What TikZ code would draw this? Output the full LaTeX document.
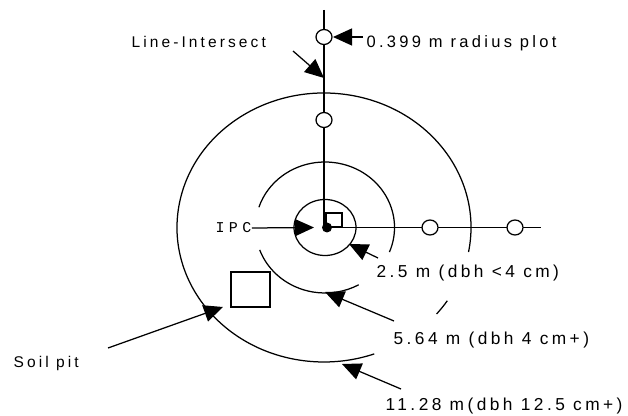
\documentclass[tikz,border=0pt]{standalone}
\usepackage{fontspec}
\setmainfont{Liberation Sans}
\newfontfamily\lblfont[LetterSpace=20]{Liberation Sans}
\newfontfamily\ipcfont[LetterSpace=29]{Liberation Mono}
\usetikzlibrary{arrows.meta,shapes.geometric}
\tikzset{
  lbl/.style={anchor=west,inner sep=0pt,font=\fontsize{17.3}{19}\lblfont},
  lblr/.style={lbl,font=\fontsize{16.5}{18}\lblfont},
  lblb/.style={lbl,font=\fontsize{15.5}{17}\lblfont},
  pnt/.style={draw,fill=white,ellipse,inner sep=0pt,minimum width=16pt,minimum height=15pt},
  arr/.style={-{Triangle[length=19pt,width=17pt]}}
}
\begin{document}
\begin{tikzpicture}[x=1pt,y=1pt,line width=1.25pt]
  \useasboundingbox (0,0) rectangle (628,415);
  \coordinate (O) at (325,187.5);
  \coordinate (Ob) at (324,187.5);
  \coordinate (Otop) at (324,405);
  \coordinate (Oend) at (541,187.5);
  % transects
  \draw (Otop) -- (324,187.5) -- (Oend);
  \node[pnt] (p1) at (324,378) {};
  \node[pnt] (p2) at (324,295) {};
  \node[pnt] (p3) at (430,187.5) {};
  \node[pnt] (p4) at (515,187.5) {};
  % plot circles
  \draw (O) ellipse [x radius=31, y radius=28];
  \draw (O) ++(-22:69.5 and 65.5) arc [start angle=-22, end angle=162, x radius=69.5, y radius=65.5];
  \draw (O) ++(200:69.5 and 65.5) arc [start angle=200, end angle=299, x radius=69.5, y radius=65.5];
  \draw (Ob) ++(-10.5:147 and 134.5) arc [start angle=-10.5, end angle=290, x radius=147, y radius=134.5];
  \draw (Ob) ++(-40:147 and 134.5) arc [start angle=-40, end angle=-33, x radius=147, y radius=134.5];
  \draw (326,188) rectangle (342,202);
  \fill (327,187.5) circle (5);
  \node[draw,minimum width=39pt,minimum height=35pt,inner sep=0pt] (pit) at (250.5,125.5) {};
  % labels
  \node[lblb] (intersect) at (131,373) {Line-Intersect};
  \node[lblr] (radius) at (366,372) {0.399 m radius plot};
  \node[lbl,font=\fontsize{15}{17}\ipcfont] (ipc) at (215,187) {IPC};
  \node[lbl] (small) at (376,142) {2.5 m (dbh <4 cm)};
  \node[lbl] (mid) at (393,75) {5.64 m (dbh 4 cm+)};
  \node[lbl] (big) at (385,9) {11.28 m(dbh 12.5 cm+)};
  \node[lblb] (soil) at (13,52) {Soil pit};
  % arrows
  \coordinate (a1) at (363,378);
  \coordinate (b1) at (333,378);
  \coordinate (a2) at (293,364);
  \coordinate (b2) at (324,337);
  \coordinate (b3) at (314,187.5);
  \coordinate (a4) at (378,157);
  \coordinate (b4) at (349,171);
  \coordinate (a5) at (394,94);
  \coordinate (b5) at (325,123);
  \coordinate (a6) at (401,26);
  \coordinate (b6) at (342,51);
  \coordinate (a7) at (108,67);
  \coordinate (b7) at (223,108);
  \draw[arr] (a1) -- (b1);
  \draw[arr] (a2) -- (b2);
  \draw[arr] (ipc.east) -- (b3);
  \draw[arr] (a4) -- (b4);
  \draw[arr] (a5) -- (b5);
  \draw[arr] (a6) -- (b6);
  \draw[arr] (a7) -- (b7);
\end{tikzpicture}
\end{document}
